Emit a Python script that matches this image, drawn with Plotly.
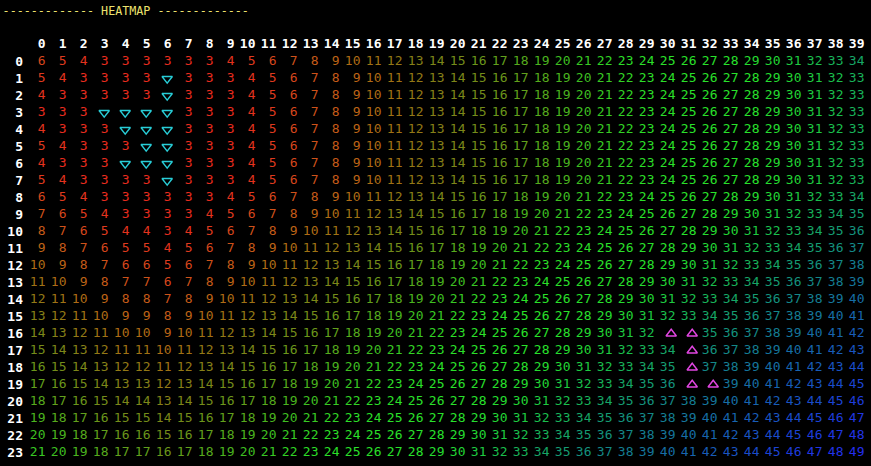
import plotly.graph_objects as go
from plotly.colors import sample_colorscale

# ---------------- data ----------------
COL_LABELS = list(range(40))
ROW_LABELS = list(range(24))
N = None  # cell drawn as a triangle marker instead of a number

GRID = [
    [6,5,4,3,3,3,3,3,3,4,5,6,7,8,9,10,11,12,13,14,15,16,17,18,19,20,21,22,23,24,25,26,27,28,29,30,31,32,33,34],
    [5,4,3,3,3,3,N,3,3,3,4,5,6,7,8,9,10,11,12,13,14,15,16,17,18,19,20,21,22,23,24,25,26,27,28,29,30,31,32,33],
    [4,3,3,3,3,3,N,3,3,3,4,5,6,7,8,9,10,11,12,13,14,15,16,17,18,19,20,21,22,23,24,25,26,27,28,29,30,31,32,33],
    [3,3,3,N,N,N,N,3,3,3,4,5,6,7,8,9,10,11,12,13,14,15,16,17,18,19,20,21,22,23,24,25,26,27,28,29,30,31,32,33],
    [4,3,3,3,N,N,N,3,3,3,4,5,6,7,8,9,10,11,12,13,14,15,16,17,18,19,20,21,22,23,24,25,26,27,28,29,30,31,32,33],
    [5,4,3,3,3,N,N,3,3,3,4,5,6,7,8,9,10,11,12,13,14,15,16,17,18,19,20,21,22,23,24,25,26,27,28,29,30,31,32,33],
    [4,3,3,3,N,N,N,3,3,3,4,5,6,7,8,9,10,11,12,13,14,15,16,17,18,19,20,21,22,23,24,25,26,27,28,29,30,31,32,33],
    [5,4,3,3,3,3,N,3,3,3,4,5,6,7,8,9,10,11,12,13,14,15,16,17,18,19,20,21,22,23,24,25,26,27,28,29,30,31,32,33],
    [6,5,4,3,3,3,3,3,3,4,5,6,7,8,9,10,11,12,13,14,15,16,17,18,19,20,21,22,23,24,25,26,27,28,29,30,31,32,33,34],
    [7,6,5,4,3,3,3,3,4,5,6,7,8,9,10,11,12,13,14,15,16,17,18,19,20,21,22,23,24,25,26,27,28,29,30,31,32,33,34,35],
    [8,7,6,5,4,4,3,4,5,6,7,8,9,10,11,12,13,14,15,16,17,18,19,20,21,22,23,24,25,26,27,28,29,30,31,32,33,34,35,36],
    [9,8,7,6,5,5,4,5,6,7,8,9,10,11,12,13,14,15,16,17,18,19,20,21,22,23,24,25,26,27,28,29,30,31,32,33,34,35,36,37],
    [10,9,8,7,6,6,5,6,7,8,9,10,11,12,13,14,15,16,17,18,19,20,21,22,23,24,25,26,27,28,29,30,31,32,33,34,35,36,37,38],
    [11,10,9,8,7,7,6,7,8,9,10,11,12,13,14,15,16,17,18,19,20,21,22,23,24,25,26,27,28,29,30,31,32,33,34,35,36,37,38,39],
    [12,11,10,9,8,8,7,8,9,10,11,12,13,14,15,16,17,18,19,20,21,22,23,24,25,26,27,28,29,30,31,32,33,34,35,36,37,38,39,40],
    [13,12,11,10,9,9,8,9,10,11,12,13,14,15,16,17,18,19,20,21,22,23,24,25,26,27,28,29,30,31,32,33,34,35,36,37,38,39,40,41],
    [14,13,12,11,10,10,9,10,11,12,13,14,15,16,17,18,19,20,21,22,23,24,25,26,27,28,29,30,31,32,N,N,35,36,37,38,39,40,41,42],
    [15,14,13,12,11,11,10,11,12,13,14,15,16,17,18,19,20,21,22,23,24,25,26,27,28,29,30,31,32,33,34,N,36,37,38,39,40,41,42,43],
    [16,15,14,13,12,12,11,12,13,14,15,16,17,18,19,20,21,22,23,24,25,26,27,28,29,30,31,32,33,34,35,N,37,38,39,40,41,42,43,44],
    [17,16,15,14,13,13,12,13,14,15,16,17,18,19,20,21,22,23,24,25,26,27,28,29,30,31,32,33,34,35,36,N,N,39,40,41,42,43,44,45],
    [18,17,16,15,14,14,13,14,15,16,17,18,19,20,21,22,23,24,25,26,27,28,29,30,31,32,33,34,35,36,37,38,39,40,41,42,43,44,45,46],
    [19,18,17,16,15,15,14,15,16,17,18,19,20,21,22,23,24,25,26,27,28,29,30,31,32,33,34,35,36,37,38,39,40,41,42,43,44,45,46,47],
    [20,19,18,17,16,16,15,16,17,18,19,20,21,22,23,24,25,26,27,28,29,30,31,32,33,34,35,36,37,38,39,40,41,42,43,44,45,46,47,48],
    [21,20,19,18,17,17,16,17,18,19,20,21,22,23,24,25,26,27,28,29,30,31,32,33,34,35,36,37,38,39,40,41,42,43,44,45,46,47,48,49],
]

DOWN_ROWS = [1, 2, 3, 3, 3, 3, 4, 4, 4, 5, 5, 6, 6, 6, 7]
DOWN_COLS = [6, 6, 3, 4, 5, 6, 4, 5, 6, 5, 6, 4, 5, 6, 6]
UP_ROWS = [16, 16, 17, 18, 19, 19]
UP_COLS = [30, 31, 31, 31, 31, 32]

TITLE = "------------- HEATMAP -------------"

# value -> colour stops of the terminal palette
STOP_VALUES = [3, 5, 7, 9, 11, 13, 15, 17, 20, 23, 28, 30, 32, 34, 36, 38, 40, 42, 44, 46, 49]
STOP_COLORS = [
    "rgb(232,44,30)", "rgb(222,58,30)", "rgb(206,82,26)", "rgb(190,100,22)",
    "rgb(160,114,20)", "rgb(134,128,24)", "rgb(116,140,26)", "rgb(98,160,28)",
    "rgb(62,190,32)", "rgb(44,222,40)", "rgb(40,226,44)", "rgb(34,214,52)",
    "rgb(26,190,76)", "rgb(22,165,102)", "rgb(20,146,126)", "rgb(20,126,146)",
    "rgb(22,110,166)", "rgb(24,92,184)", "rgb(26,76,204)", "rgb(30,60,220)",
    "rgb(36,46,240)",
]
VMIN, VMAX = 3, 49

# ---------------- figure ----------------
NB = "\u00a0"
MONO = "DejaVu Sans Mono"
FS = 13
X_RANGE = [-0.652, 39.681]
Y_RANGE = [23.78, -0.571]
scale = [[(v - VMIN) / (VMAX - VMIN), c] for v, c in zip(STOP_VALUES, STOP_COLORS)]


def pad(s):
    return f"{s:>2}".replace(" ", NB)


xs, ys, texts, colors = [], [], [], []
for r, row in enumerate(GRID):
    for c, v in enumerate(row):
        if v is None:
            continue
        xs.append(c)
        ys.append(r)
        texts.append(pad(v))
        colors.append(sample_colorscale(scale, [(v - VMIN) / (VMAX - VMIN)])[0])

fig = go.Figure()
fig.add_trace(go.Scatter(
    x=xs, y=ys, mode="text", text=texts,
    textposition="middle center",
    textfont=dict(family=MONO, size=FS, color=colors),
    hoverinfo="skip", showlegend=False,
))
# triangles sit in the right-hand character of each cell: overlay axis shifted by half a char
fig.add_trace(go.Scatter(
    x=DOWN_COLS, y=DOWN_ROWS, mode="markers", xaxis="x2",
    marker=dict(symbol="triangle-down-open", size=9, color="rgb(40,205,215)",
                line=dict(width=1.4, color="rgb(40,205,215)")),
    hoverinfo="skip", showlegend=False,
))
fig.add_trace(go.Scatter(
    x=UP_COLS, y=UP_ROWS, mode="markers", xaxis="x2",
    marker=dict(symbol="triangle-up-open", size=9, color="rgb(225,70,225)",
                line=dict(width=1.4, color="rgb(225,70,225)")),
    hoverinfo="skip", showlegend=False,
))

SHIFT = 1 / 6
fig.update_layout(
    width=871, height=466,
    margin=dict(l=24, r=0, t=52, b=0),
    paper_bgcolor="black", plot_bgcolor="black",
    font=dict(family=MONO, color="white"),
    title=dict(
        text=TITLE, x=0.003, xanchor="left", xref="container",
        y=1 - 11 / 466, yanchor="middle", yref="container",
        font=dict(family=MONO, size=11.7, color="rgb(236,226,110)"),
    ),
    xaxis=dict(
        range=X_RANGE, side="top",
        tickvals=COL_LABELS, ticktext=[pad(c) for c in COL_LABELS],
        ticks="", ticklen=0, showgrid=False, zeroline=False, showline=False,
        tickfont=dict(family=MONO, size=FS, color="white", weight="bold"),
        fixedrange=True,
    ),
    xaxis2=dict(
        range=[X_RANGE[0] - SHIFT, X_RANGE[1] - SHIFT], overlaying="x",
        visible=False, fixedrange=True,
    ),
    yaxis=dict(
        range=Y_RANGE,
        tickvals=ROW_LABELS, ticktext=[pad(r) for r in ROW_LABELS],
        ticks="", ticklen=0, showgrid=False, zeroline=False, showline=False,
        tickfont=dict(family=MONO, size=FS, color="white", weight="bold"),
        fixedrange=True,
    ),
)

fig.write_html("out.html")
